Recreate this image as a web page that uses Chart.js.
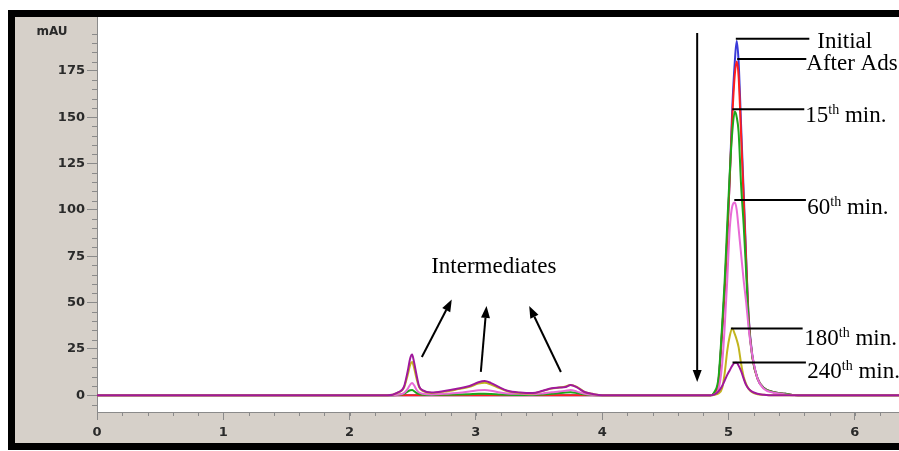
<!DOCTYPE html>
<html lang="en">
<head>
  <meta charset="UTF-8">
  <title>HPLC chromatogram</title>
  <script src="https://cdn.jsdelivr.net/npm/chart.js"></script>
  <style>
    body { margin: 0; background: #fff; }
    #wrap { width: 899px; height: 451px; }
  </style>
</head>
<body>
<div id="wrap"><canvas id="hplc"></canvas></div>

<script>
    // retention time (min), denser around the peaks
    const time = [0,
        2.30, 2.38, 2.43, 2.46, 2.48, 2.495, 2.51, 2.53, 2.55, 2.58, 2.65, 2.75, 2.85, 2.95, 3.02,
        3.07, 3.12, 3.18, 3.25, 3.35, 3.45, 3.53, 3.60, 3.66, 3.71, 3.75, 3.80, 3.86, 3.92, 4.00,
        4.86, 4.89, 4.92, 4.95, 4.97, 4.99, 5.01, 5.03, 5.05, 5.065, 5.08, 5.10, 5.12, 5.14, 5.16,
        5.19, 5.23, 5.28, 5.35, 5.45, 5.55,
        6.35];

    // absorbance (mAU) for each sample
    const initial = [0,
        0, 0, 0, 0, 0, 0, 0, 0, 0, 0, 0, 0, 0, 0, 0,
        0, 0, 0, 0, 0, 0, 0, 0, 0, 0, 0, 0, 0, 0, 0,
        0, 1.5, 7, 35, 57, 85, 117, 155, 180, 191, 180, 145, 110, 74, 42,
        21, 9, 4, 1.8, 0.8, 0,
        0];
    const afterAds = [0,
        0, 0, 0, 0, 0, 0, 0, 0, 0, 0, 0, 0, 0, 0, 0,
        0, 0, 0, 0, 0, 0, 0, 0, 0, 0, 0, 0, 0, 0, 0,
        0, 1.5, 7, 35, 57, 85, 117, 150, 173, 180, 172, 140, 106, 72, 41,
        20, 9, 4, 1.8, 0.8, 0,
        0];
    const min15 = [0,
        0, 0.2, 0.8, 2, 2.7, 2.8, 2.3, 1.3, 0.7, 0.3, 0.2, 0.3, 0.4, 0.6, 0.8,
        0.8, 0.7, 0.5, 0.3, 0.2, 0.2, 0.4, 0.8, 1.2, 1.5, 1.6, 1.2, 0.5, 0.2, 0,
        0, 2, 9, 38, 62, 92, 120, 142, 153, 150, 142, 113, 92, 66, 39,
        20, 9, 4, 1.8, 0.8, 0,
        0];
    const min60 = [0,
        0, 0.3, 1.2, 3.5, 5.8, 6.6, 5.5, 3, 1.5, 0.8, 0.5, 0.8, 1.2, 2, 2.7,
        2.8, 2.5, 1.6, 1, 0.8, 0.6, 1, 1.6, 2, 2.5, 2.8, 2, 0.8, 0.3, 0,
        0, 0.5, 3, 17, 37, 62, 90, 102, 104, 100, 90, 76, 62, 50, 36,
        21, 9, 3.5, 1.5, 0.5, 0,
        0];
    const min180 = [0,
        0, 1.3, 4, 11, 16.5, 18, 15, 9, 4.5, 2.4, 1.3, 2, 3.2, 4.6, 6.3,
        6.8, 5.8, 4, 2.2, 1.3, 1, 2.4, 3.6, 4.2, 4.8, 5.6, 4.5, 1.8, 0.8, 0,
        0, 0.3, 1, 4, 12, 24, 32, 36, 33, 30, 26, 17, 10, 6, 3.5,
        1.5, 0.6, 0.3, 0, 0, 0,
        0];
    const min240 = [0,
        0, 1.5, 4.5, 13, 20, 22, 18, 11, 5, 2.7, 1.5, 2.3, 3.5, 5, 7,
        7.7, 6.6, 4.5, 2.5, 1.5, 1.2, 2.5, 3.8, 4.2, 4.5, 5.5, 4.3, 1.8, 0.8, 0,
        0, 0.5, 2, 5, 8, 11, 13.5, 16, 17.5, 17.5, 16, 13, 9, 5.5, 3.5,
        1.8, 0.8, 0.3, 0, 0, 0,
        0];

    const xTicks = [0, 1, 2, 3, 4, 5, 6];
    const yTicks = [0, 25, 50, 75, 100, 125, 150, 175];

    const panelGray = '#d6d0c9';
    const axisGray = '#8a8a8a';
    const tickFont = { family: 'DejaVu Sans', size: 13, weight: 'bold' };

    // peak labels: text position, leader line (data units)
    const peakNotes = [
        { main: 'Initial',    sup: '',   rest: '',      tx: 5.703, ty: 187.5, x1: 5.058, x2: 5.640, ly: 192.3 },
        { main: 'After Ads.', sup: '',   rest: '',      tx: 5.616, ty: 175.6, x1: 5.069, x2: 5.616, ly: 181.4 },
        { main: '15',         sup: 'th', rest: ' min.', tx: 5.608, ty: 147.5, x1: 5.030, x2: 5.600, ly: 154.3 },
        { main: '60',         sup: 'th', rest: ' min.', tx: 5.624, ty: 97.8,  x1: 5.046, x2: 5.613, ly: 105.3 },
        { main: '180',        sup: 'th', rest: ' min.', tx: 5.600, ty: 27.0,  x1: 5.019, x2: 5.587, ly: 36.0 },
        { main: '240',        sup: 'th', rest: ' min.', tx: 5.624, ty: 9.2,   x1: 5.032, x2: 5.613, ly: 17.7 }
    ];
    const arrows = [
        { x1: 2.572, y1: 20.7, x2: 2.809, y2: 51.7 },
        { x1: 3.039, y1: 12.6, x2: 3.084, y2: 48.2 },
        { x1: 3.673, y1: 12.6, x2: 3.422, y2: 48.2 },
        { x1: 4.752, y1: 195.4, x2: 4.752, y2: 7.2 }
    ];
    const midNote = { text: 'Intermediates', tx: 2.646, ty: 65.9 };

    function toPoints(ys) {
        return time.map((t, i) => ({ x: t, y: ys[i] }));
    }

    function arrow(ctx, x1, y1, x2, y2) {
        const ang = Math.atan2(y2 - y1, x2 - x1);
        const len = 12, half = 4.5;
        const bx = x2 - len * Math.cos(ang), by = y2 - len * Math.sin(ang);
        ctx.beginPath();
        ctx.moveTo(x1, y1);
        ctx.lineTo(bx, by);
        ctx.stroke();
        ctx.beginPath();
        ctx.moveTo(x2, y2);
        ctx.lineTo(bx + half * Math.sin(ang), by - half * Math.cos(ang));
        ctx.lineTo(bx - half * Math.sin(ang), by + half * Math.cos(ang));
        ctx.closePath();
        ctx.fill();
    }

    const chromePlugin = {
        id: 'chrome',
        beforeDraw(chart) {
            const { ctx, chartArea: a, width } = chart;
            ctx.save();
            ctx.fillStyle = '#fff';
            ctx.fillRect(0, 0, width, chart.height);
            ctx.fillStyle = '#000';
            ctx.fillRect(8, 10, width - 8, 440);
            ctx.fillStyle = panelGray;
            ctx.fillRect(15, 17, width - 15, 426);
            ctx.fillStyle = '#fff';
            ctx.fillRect(a.left, a.top, a.right - a.left, a.bottom - a.top);
            ctx.restore();
        },
        afterDraw(chart) {
            const { ctx, chartArea: a } = chart;
            const xs = chart.scales.x, ys = chart.scales.y;
            ctx.save();

            // minor ticks
            ctx.strokeStyle = axisGray;
            ctx.lineWidth = 1;
            ctx.beginPath();
            for (let v = 0.2; v < xs.max; v += 0.2) {
                const px = Math.round(xs.getPixelForValue(v)) + 0.5;
                ctx.moveTo(px, a.bottom);
                ctx.lineTo(px, a.bottom + 4);
            }
            for (let v = -5; v <= ys.max; v += 5) {
                if (v % 25 === 0) continue;
                const py = Math.round(ys.getPixelForValue(v)) + 0.5;
                ctx.moveTo(a.left, py);
                ctx.lineTo(a.left - 5, py);
            }
            ctx.stroke();

            // unit label
            ctx.fillStyle = '#2a2a2a';
            ctx.font = 'bold 12px "DejaVu Sans"';
            ctx.textAlign = 'center';
            ctx.textBaseline = 'middle';
            ctx.fillText('mAU', 52, 32);

            // annotations
            ctx.strokeStyle = '#000';
            ctx.fillStyle = '#000';
            ctx.lineWidth = 2;
            ctx.textAlign = 'left';
            ctx.textBaseline = 'alphabetic';
            peakNotes.forEach(n => {
                const ly = ys.getPixelForValue(n.ly);
                ctx.beginPath();
                ctx.moveTo(xs.getPixelForValue(n.x1), ly);
                ctx.lineTo(xs.getPixelForValue(n.x2), ly);
                ctx.stroke();
                let px = xs.getPixelForValue(n.tx);
                const py = ys.getPixelForValue(n.ty);
                ctx.font = '23px "Liberation Serif"';
                ctx.fillText(n.main, px, py);
                px += ctx.measureText(n.main).width;
                if (n.sup) {
                    ctx.font = '14px "Liberation Serif"';
                    ctx.fillText(n.sup, px, py - 8);
                    px += ctx.measureText(n.sup).width;
                    ctx.font = '23px "Liberation Serif"';
                    ctx.fillText(n.rest, px, py);
                }
            });
            ctx.font = '23px "Liberation Serif"';
            ctx.fillText(midNote.text, xs.getPixelForValue(midNote.tx), ys.getPixelForValue(midNote.ty));

            arrows.forEach(r => arrow(ctx,
                xs.getPixelForValue(r.x1), ys.getPixelForValue(r.y1),
                xs.getPixelForValue(r.x2), ys.getPixelForValue(r.y2)));

            ctx.restore();
        }
    };

    const series = [
        { label: '240th min.', data: min240,   color: '#a0189c' },
        { label: '180th min.', data: min180,   color: '#c2b51e' },
        { label: '60th min.',  data: min60,    color: '#e86ad6' },
        { label: '15th min.',  data: min15,    color: '#1ca81c' },
        { label: 'After Ads.', data: afterAds, color: '#ff1e1e' },
        { label: 'Initial',    data: initial,  color: '#3a3ad8' }
    ];

    new Chart(document.getElementById('hplc'), {
        type: 'line',
        data: {
            datasets: series.map(s => ({
                label: s.label,
                data: toPoints(s.data),
                borderColor: s.color,
                borderWidth: 2,
                pointRadius: 0,
                cubicInterpolationMode: 'monotone',
                fill: false
            }))
        },
        options: {
            responsive: true,
            maintainAspectRatio: false,
            animation: false,
            layout: { padding: { left: 15, top: 17, right: 0, bottom: 8 } },
            plugins: {
                legend: { display: false },
                tooltip: { enabled: false }
            },
            scales: {
                x: {
                    type: 'linear',
                    min: 0,
                    max: 6.35,
                    afterBuildTicks: s => { s.ticks = xTicks.map(v => ({ value: v })); },
                    afterFit: s => { s.height = 31; },
                    ticks: { font: tickFont, color: '#2a2a2a', padding: 5, maxRotation: 0, autoSkip: false },
                    grid: { drawOnChartArea: false, tickLength: 8, color: axisGray },
                    border: { color: axisGray }
                },
                y: {
                    min: -9,
                    max: 204,
                    afterBuildTicks: s => { s.ticks = yTicks.map(v => ({ value: v })); },
                    afterFit: s => { s.width = 82; },
                    ticks: { font: tickFont, color: '#2a2a2a', padding: 2 },
                    grid: { drawOnChartArea: false, tickLength: 10, color: axisGray },
                    border: { color: axisGray }
                }
            }
        },
        plugins: [chromePlugin]
    });
</script>
</body>
</html>
